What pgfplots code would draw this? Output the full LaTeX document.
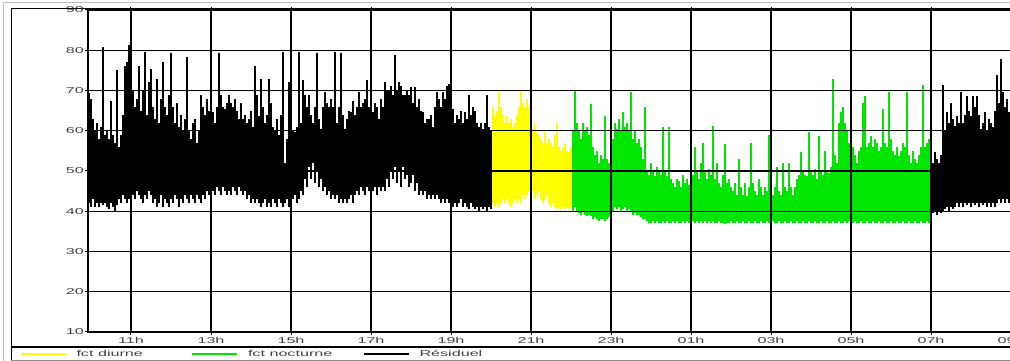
\documentclass[border=0pt]{standalone}
\usepackage{fontspec}
\setmainfont{Liberation Sans}
\newfontfamily\wfont[FakeStretch=1.9]{Liberation Sans}
\usepackage{pgfplots}
\usepackage{pgfplotstable}
\pgfplotsset{compat=1.18}
\definecolor{ylw}{RGB}{255,255,0}
\definecolor{grn}{RGB}{0,230,0}

\pgfplotstableread{
h lo hi
9.95 42 69.5
10.00 41 68
10.05 43 63
10.10 41 60
10.15 42 62
10.20 41 58
10.25 42 61
10.30 41.5 80.8
10.35 42 59
10.40 41 60
10.45 40.5 58
10.50 42 67.5
10.55 41 59
10.60 40 57
10.65 41.5 75
10.70 43 56
10.75 42 59
10.80 44 64
10.85 43 76
10.90 42 77
10.95 43 81.4
11.00 44 74
11.05 44 70
11.10 43 66
11.15 45 68
11.20 44 76.2
11.25 43 65
11.30 42 70
11.35 44 79.6
11.40 43 64
11.45 45 72
11.50 44 75.4
11.55 42 66
11.60 43 63
11.65 41 72.9
11.70 42 62
11.75 44 68
11.80 41 77
11.85 43 66
11.90 42 64
11.95 41 68.8
12.00 43 79.2
12.05 42 66
12.10 44 62
12.15 43 67
12.20 41 61
12.25 43 64
12.30 42 60
12.35 44 63
12.40 43 78.3
12.45 42 60
12.50 44 58
12.55 43 62
12.60 42 63
12.65 44 57
12.70 43 60
12.75 42 68.8
12.80 44 66
12.85 43 64
12.90 45 68
12.95 44 65
13.00 43 66
13.05 45 64.6
13.10 44 62
13.15 46 66
13.20 45 79.2
13.25 44 68.8
13.30 46 66
13.35 45 65.4
13.40 44 67
13.45 45 68.8
13.50 44 67
13.55 46 66
13.60 45 68
13.65 44 65
13.70 46 63
13.75 45 67
13.80 44 62.9
13.85 45 64
13.90 43 62
13.95 44 63
14.00 42 65
14.05 43 61
14.10 42 76.2
14.15 43 68.8
14.20 42 63.7
14.25 41 72.9
14.30 42 66
14.35 43 62
14.40 41 64
14.45 42 72.9
14.50 41 67
14.55 43 61
14.60 42 60
14.65 41 63
14.70 43 59
14.75 42 64
14.80 41 79.6
14.85 42 52
14.90 43 58
14.95 41 72
15.00 42 62
15.05 43 60
15.10 44 59.6
15.15 42 61
15.20 43 79.6
15.25 45 62
15.30 44 72.5
15.35 48 69
15.40 46 66
15.45 51 68.8
15.50 48 64
15.55 52 62
15.60 47 66
15.65 50 79.2
15.70 46 63
15.75 48 60.4
15.80 45 66
15.85 46 69.6
15.90 44 67
15.95 45 66
16.00 43 68
16.05 44 66
16.10 43 79.6
16.15 44 62
16.20 42 66
16.25 43 79.2
16.30 42 64
16.35 43 60.4
16.40 42 63
16.45 43 65
16.50 44 64.6
16.55 42 67.5
16.60 44 64
16.65 45 66
16.70 44 69.6
16.75 46 66
16.80 45 67
16.85 44 68
16.90 46 72.5
16.95 45 66
17.00 46 69.6
17.05 45 64.6
17.10 46 67
17.15 44 66
17.20 46 62.9
17.25 45 68
17.30 46 66
17.35 45 72
17.40 48 70
17.45 46 70
17.50 50 71
17.55 48 69
17.60 51 78.8
17.65 47 70
17.70 50 72
17.75 46 71
17.80 51 69
17.85 48 68.8
17.90 49 70
17.95 46 69
18.00 47 70.8
18.05 49 67
18.10 45 70.8
18.15 47 66
18.20 44 68
18.25 45 65
18.30 44 64.6
18.35 45 62
18.40 43 63
18.45 44 62.9
18.50 43 64
18.55 44 61
18.60 43 66
18.65 44 69.6
18.70 43 68
18.75 42 66
18.80 43 69.6
18.85 42 68
18.90 43 71
18.95 42 71.7
19.00 43 69
19.05 41 65.4
19.10 42 62
19.15 41 64
19.20 42 63
19.25 43 65
19.30 41 62
19.35 42 64.6
19.40 41 63
19.45 40.5 68.8
19.50 42 64
19.55 41 66
19.60 40.5 65
19.65 41 62
19.70 40 61
19.75 41 62
19.80 40.5 60.4
19.85 41 62
19.90 40 68.8
19.95 41 61
20.00 40.5 60
}\blackA

\pgfplotstableread{
h lo hi
20.05 42 66
20.10 41 63.7
20.15 42 65
20.20 41 69.6
20.25 42 66
20.30 43 64
20.35 42 62
20.40 43 63.7
20.45 42 62
20.50 41 63
20.55 42 61
20.60 43 62
20.65 42 64
20.70 43 66
20.75 42 69.6
20.80 44 67
20.85 43 66
20.90 44 68
20.95 45 66
21.00 44 63
21.05 45 60.4
21.10 43 62
21.15 44 59.6
21.20 45 59
21.25 43 58
21.30 42 57
21.35 43 59.6
21.40 44 57
21.45 42 58
21.50 41 57
21.55 42 56
21.60 41 59
21.65 40.5 62
21.70 41 56
21.75 40.5 55
21.80 41 56
21.85 40.5 57
21.90 41 55
21.95 40.5 54.6
22.00 41 56
}\yellowD

\pgfplotstableread{
h lo hi
22.05 40 60
22.10 41 70
22.15 40 62
22.20 39.5 60
22.25 39 58
22.30 40 62
22.35 39 60
22.40 38.75 61
22.45 39 59
22.50 38.75 66.7
22.55 38 56
22.60 38.5 54
22.65 38 55
22.70 37.5 52
22.75 38 54
22.80 38 53
22.85 37.5 63.75
22.90 38 53
22.95 38.5 52
23.00 39 54
23.05 40 58
23.10 41 62
23.15 40.5 60.4
23.20 41 63
23.25 40 60
23.30 40.5 64.6
23.35 41 61
23.40 40 62
23.45 40.5 60
23.50 40 69.6
23.55 39 58
23.60 39.5 60
23.65 39 57
23.70 39 58
23.75 38.5 56
23.80 38 53
23.85 38 65.8
23.90 37.5 50
23.95 37 49
24.00 37 52
24.05 37.5 50
24.10 37 48.75
24.15 37.5 51
24.20 37 50
24.25 37 49
24.30 37.5 61
24.35 37 50
24.40 37.5 48.75
24.45 37 61
24.50 37 48
24.55 37.5 47
24.60 37 46
24.65 37.5 48
24.70 37 47.5
24.75 37 46
24.80 37.5 49
24.85 37 47
24.90 37.5 48
24.95 37 46.5
25.00 37 47
25.05 37.5 49
25.10 37 56
25.15 37.5 50
25.20 37 48
25.25 37.5 52
25.30 37 57
25.35 37.5 50
25.40 37 48
25.45 37.5 50.4
25.50 37 49
25.55 37.5 61.25
25.60 37 48
25.65 37 52
25.70 37.5 47
25.75 37 46
25.80 37 49
25.85 36.75 56.7
25.90 37 47
25.95 37 48
26.00 37.5 46
26.05 37 45
26.10 37 47
26.15 37.5 44
26.20 37 53
26.25 37 46
26.30 37.5 44
26.35 37 47
26.40 37 43.75
26.45 37.5 46
26.50 37 57
26.55 37 47
26.60 37.5 45
26.65 37 44
26.70 37 48
26.75 37.5 46
26.80 37 44
26.85 37 46
26.90 37.5 45
26.95 37 59
27.00 37 47
27.05 37.5 44
27.10 37 46
27.15 37 51
27.20 37.5 45
27.25 37 44
27.30 37 52
27.35 37.5 46
27.40 37 45
27.45 37 52
27.50 37.5 46
27.55 37 44
27.60 37 46
27.65 37.5 48
27.70 37 49
27.75 37 54.6
27.80 37.5 50
27.85 37 49
27.90 37 48.75
27.95 37.5 59.6
28.00 37 50
28.05 37 49
28.10 37.5 50.4
28.15 37 48
28.20 37 58.75
28.25 37.5 50
28.30 37 49
28.35 37 55
28.40 37.5 50
28.45 37 49.6
28.50 37 51
28.55 37.5 72.9
28.60 37 54
28.65 37 52
28.70 37.5 62
28.75 37 64.6
28.80 37 65.8
28.85 37.5 62
28.90 37 60
28.95 37.5 57
29.00 37 55
29.05 37 56
29.10 37.5 54
29.15 37 52
29.20 37 55
29.25 37.5 56
29.30 37 67
29.35 37 68.75
29.40 37.5 56
29.45 37 57
29.50 37 58.75
29.55 37.5 56
29.60 37 58
29.65 37 57
29.70 37.5 55
29.75 37 56
29.80 37 65.4
29.85 37.5 57
29.90 37 56
29.95 37 69.6
30.00 37.5 58
30.05 37 55
30.10 37 54
30.15 37.5 56
30.20 37 53.75
30.25 37 55
30.30 37.5 57
30.35 37 56
30.40 37 69.6
30.45 37.5 54
30.50 37 52
30.55 37 55
30.60 37.5 53
30.65 37 52
30.70 37 54
30.75 37.5 56
30.80 37 71.25
30.85 37 56
30.90 37.5 57
30.95 37 58
}\greenN

\pgfplotstableread{
h lo hi
31.00 40 54
31.05 39.5 52
31.10 40 54.6
31.15 39 53
31.20 40 52
31.25 39.5 54
31.30 40 71.25
31.35 40.5 60
31.40 41 64.6
31.45 40 62
31.50 41 67
31.55 40.5 63
31.60 41 61.25
31.65 42 63.75
31.70 41 62
31.75 42 69.6
31.80 41 62
31.85 42 64
31.90 41.5 68.75
31.95 42 65
32.00 41 63.75
32.05 42 68.75
32.10 41.5 66
32.15 42 68.75
32.20 41 64
32.25 42 60.4
32.30 41.5 62
32.35 42 64.6
32.40 41 60
32.45 42 63
32.50 41 62
32.55 42 61
32.60 41 65
32.65 42 73.75
32.70 43 67
32.75 42 77.9
32.80 43 69.6
32.85 42 66
32.90 43 68
32.95 42 64.6
33.00 43 66
}\blackB

\pgfplotsset{
  colband/.style={draw=none, mark=none, forget plot,
    error bars/.cd, y dir=plus, y explicit, error mark=none,
    error bar style={draw=#1, line width=2.4pt}},
}

\begin{document}
\begin{tikzpicture}
\begin{axis}[
  at={(88pt,29pt)}, anchor=south west,
  scale only axis, width=963pt, height=322pt,
  xmin=9.925, xmax=34, ymin=10, ymax=90,
  xtick={11,13,...,33},
  xticklabels={11h,13h,15h,17h,19h,21h,23h,01h,03h,05h,07h,09h},
  ytick={10,20,...,90},
  grid=major, grid style={black, line width=1.2pt},
  axis line style={black, line width=1.5pt},
  tick align=outside, major tick length=3pt, tick style={black, line width=1pt},
  axis on top, clip=true,
  /pgf/number format/assume math mode=true,
  tick label style={font=\wfont\fontsize{8.5}{10}\selectfont, text=black!75},
  yticklabel style={inner sep=1pt},
  xticklabel style={inner sep=1pt, yshift=-1pt},
  title={Evolution temporelle du niveau sonore},
  title style={font=\wfont\bfseries\fontsize{8.5}{10}\selectfont, text=black!85,
    at={(axis description cs:0.407,1)}, anchor=base, yshift=6pt},
  legend columns=3,
  legend style={at={(axis description cs:-0.0706,-0.0683)}, anchor=west,
    draw=none, fill=none, inner sep=0pt, outer sep=0pt,
    nodes={inner sep=0pt}, font=\wfont\fontsize{8.5}{10}\selectfont, text=black!75,
    /tikz/every odd column/.append style={column sep=10pt}},
  legend image code/.code={\draw[#1] (0pt,0pt) -- (45pt,0pt);},
]
\addplot[colband=black] table[x=h, y=lo, y error plus expr=\thisrow{hi}-\thisrow{lo}] {\blackA};
\addplot[colband=ylw] table[x=h, y=lo, y error plus expr=\thisrow{hi}-\thisrow{lo}] {\yellowD};
\addplot[colband=grn] table[x=h, y=lo, y error plus expr=\thisrow{hi}-\thisrow{lo}] {\greenN};
\addplot[colband=black] table[x=h, y=lo, y error plus expr=\thisrow{hi}-\thisrow{lo}] {\blackB};
\addlegendimage{ylw, line width=1.5pt}
\addlegendentry{\makebox[115pt][l]{fct diurne}}
\addlegendimage{grn, line width=1.5pt}
\addlegendentry{\makebox[115pt][l]{fct nocturne}}
\addlegendimage{black, line width=1.5pt}
\addlegendentry{\makebox[115pt][l]{Résiduel}}
\end{axis}
\draw[black, line width=0.8pt] (11pt,0pt) -- (11pt,353pt) -- (1012pt,353pt);
\draw[black, line width=1.5pt] (11pt,14pt) -- (1012pt,14pt);
\draw[black!45, line width=0.6pt] (11pt,1pt) -- (1012pt,1pt);
\draw[black!25, line width=0.8pt] (3pt,0pt) -- (3pt,359pt) -- (1012pt,359pt);
\pgfresetboundingbox
\path[use as bounding box] (0pt,0pt) rectangle (1010pt,361pt);
\end{tikzpicture}
\end{document}
